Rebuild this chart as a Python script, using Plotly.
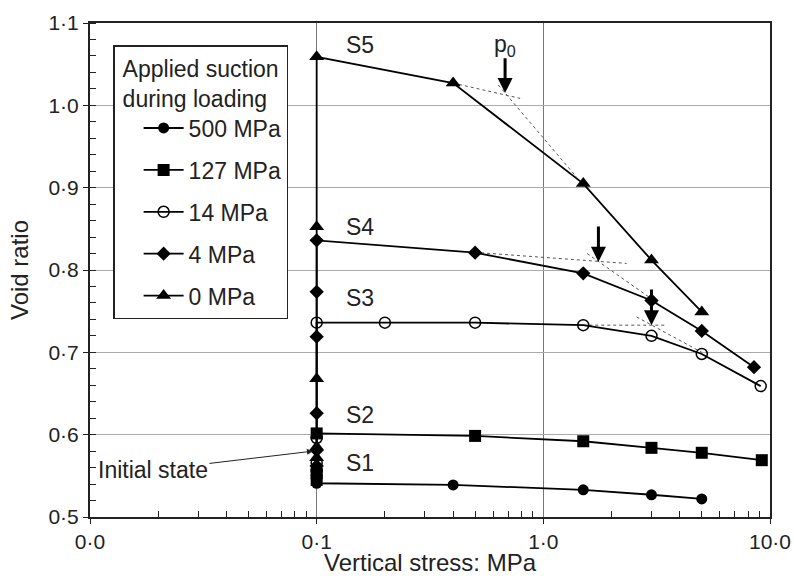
import numpy as np
import plotly.graph_objects as go

# ---------------- data ----------------
series_names = ["500 MPa", "127 MPa", "14 MPa", "4 MPa", "0 MPa"]

s1_stress = [0.1, 0.1, 0.1, 0.4, 1.5, 3.0, 5.0]
s1_void = [0.558, 0.548, 0.541, 0.539, 0.533, 0.527, 0.522]

s2_stress = [0.1, 0.1, 0.1, 0.5, 1.5, 3.0, 5.0, 9.2]
s2_void = [0.545, 0.553, 0.6015, 0.5985, 0.592, 0.584, 0.578, 0.569]

s3_stress = [0.1, 0.1, 0.1, 0.1, 0.2, 0.5, 1.5, 3.0, 5.0, 9.1]
s3_void = [0.556, 0.566, 0.596, 0.736, 0.736, 0.736, 0.733, 0.720, 0.698, 0.659]

s4_stress = [0.1, 0.1, 0.1, 0.1, 0.1, 0.1, 0.5, 1.5, 3.0, 5.0, 8.5]
s4_void = [0.562, 0.581, 0.626, 0.719, 0.7735, 0.836, 0.821, 0.796, 0.763, 0.726, 0.682]

s5_stress = [0.1, 0.1, 0.1, 0.1, 0.1, 0.4, 1.5, 3.0, 5.0]
s5_void = [0.572, 0.585, 0.668, 0.8525, 1.059, 1.027, 0.905, 0.812, 0.749]

# dotted construction lines (yield stress p0 determination)
c1_stress = [0.4, 0.79];  c1_void = [1.027, 1.0085]
c2_stress = [0.633, 1.40]; c2_void = [1.0247, 0.913]
c3_stress = [0.5, 2.33];  c3_void = [0.8214, 0.808]
c4_stress = [1.56, 3.3];  c4_void = [0.820, 0.757]
c5_stress = [1.5, 3.5];   c5_void = [0.733, 0.733]
c6_stress = [2.58, 5.0];  c6_void = [0.743, 0.700]

# p0 arrows: (stress, void from, void to)
arrow_stress = [0.678, 1.75, 3.0]
arrow_top = [1.059, 0.8546, 0.778]
arrow_tip = [1.015, 0.810, 0.733]

# curve labels
label_text = ["S5", "S4", "S3", "S2", "S1"]
label_stress = [0.155, 0.155, 0.155, 0.155, 0.155]
label_void = [1.073, 0.852, 0.766, 0.624, 0.565]

x_tickvals = [0.01, 0.1, 1, 10]
x_ticktext = ["0·0", "0·1", "1·0", "10·0"]
y_tickvals = [0.5, 0.6, 0.7, 0.8, 0.9, 1.0, 1.1]
y_ticktext = ["0·5", "0·6", "0·7", "0·8", "0·9", "1·0", "1·1"]

FONT = "Liberation Sans, Arial, sans-serif"
FS = 21      # tick labels
FL = 23      # legend / labels
FT = 24      # axis titles

fig = go.Figure()

styles = [
    dict(symbol="circle", size=11, color="black"),
    dict(symbol="square", size=12, color="black"),
    dict(symbol="circle-open", size=11, color="black", line=dict(width=1.5, color="black")),
    dict(symbol="diamond", size=11, color="black"),
    dict(symbol="triangle-up", size=13, color="black"),
]
xs = [s1_stress, s2_stress, s3_stress, s4_stress, s5_stress]
ys = [s1_void, s2_void, s3_void, s4_void, s5_void]

# construction lines first (drawn below)
for cx, cy in [(c1_stress, c1_void), (c2_stress, c2_void), (c3_stress, c3_void),
               (c4_stress, c4_void), (c5_stress, c5_void), (c6_stress, c6_void)]:
    fig.add_trace(go.Scatter(x=cx, y=cy, mode="lines", showlegend=False,
                             line=dict(color="#555", width=1, dash="dot"),
                             hoverinfo="skip"))

for i, name in enumerate(series_names):
    fig.add_trace(go.Scatter(
        x=xs[i], y=ys[i], mode="lines+markers", name=name,
        legendgroup=name,
        line=dict(color="black", width=1.8),
        marker=styles[i],
    ))

annotations = []
for t, sx, sy in zip(label_text, label_stress, label_void):
    annotations.append(dict(x=np.log10(sx), y=sy, xref="x", yref="y", text=t,
                            showarrow=False, font=dict(size=FL, color="#222", family=FONT)))
annotations.append(dict(x=np.log10(arrow_stress[0]), y=1.073, xref="x", yref="y",
                        text="p<sub>0</sub>", showarrow=False,
                        font=dict(size=FL, color="#222", family=FONT)))
for sx, top, tip in zip(arrow_stress, arrow_top, arrow_tip):
    annotations.append(dict(x=np.log10(sx), y=tip, xref="x", yref="y",
                            ax=np.log10(sx), ay=top, axref="x", ayref="y",
                            text="", showarrow=True, arrowhead=2, arrowsize=1.0,
                            arrowwidth=3, arrowcolor="black"))
annotations.append(dict(x=np.log10(0.0963), y=0.580, xref="x", yref="y",
                        ax=-160, ay=19, text="Initial state", showarrow=True,
                        arrowhead=2, arrowsize=1.2, arrowwidth=1, arrowcolor="#222",
                        font=dict(size=FL, color="#222", family=FONT)))

minor_x = [m * 10.0 ** d for d in (-2, -1, 0) for m in range(2, 10)]

fig.update_layout(
    width=794, height=576,
    margin=dict(l=90, r=24, t=23, b=59),
    paper_bgcolor="white", plot_bgcolor="white",
    font=dict(family=FONT, size=FS, color="#222"),
    annotations=annotations,
    legend=dict(
        x=0.034, y=0.955, xanchor="left", yanchor="top",
        bgcolor="white", bordercolor="#222", borderwidth=1.5,
        title=dict(text="Applied suction<br>during loading", side="top center",
                   font=dict(size=FL, family=FONT, color="#222")),
        font=dict(size=FL, family=FONT, color="#222"),
        tracegroupgap=9, itemwidth=40, indentation=24,
    ),
    xaxis=dict(
        type="log", range=[-2, 1], automargin=False,
        tickmode="array", tickvals=x_tickvals, ticktext=x_ticktext,
        tickfont=dict(size=FS),
        showgrid=True, gridcolor="#777", gridwidth=1,
        showline=True, linecolor="#222", linewidth=2, mirror=True,
        ticks="outside", ticklen=5, tickcolor="#222",
        minor=dict(tickmode="array", tickvals=minor_x, ticks="inside", ticklen=6,
                   tickcolor="#222", showgrid=False),
        title=dict(text="Vertical stress: MPa", standoff=1, font=dict(size=FT)),
        zeroline=False,
    ),
    yaxis=dict(
        range=[0.5, 1.1], automargin=False,
        tickmode="array", tickvals=y_tickvals, ticktext=y_ticktext,
        tickfont=dict(size=FS),
        showgrid=True, gridcolor="#aaa", gridwidth=1,
        showline=True, linecolor="#222", linewidth=2, mirror=True,
        ticks="outside", ticklen=5, tickcolor="#222",
        minor=dict(dtick=0.02, ticks="inside", ticklen=6, tickcolor="#222", showgrid=False),
        title=dict(text="Void ratio", standoff=13, font=dict(size=FT)),
        zeroline=False,
    ),
)

fig.write_html("out.html")
